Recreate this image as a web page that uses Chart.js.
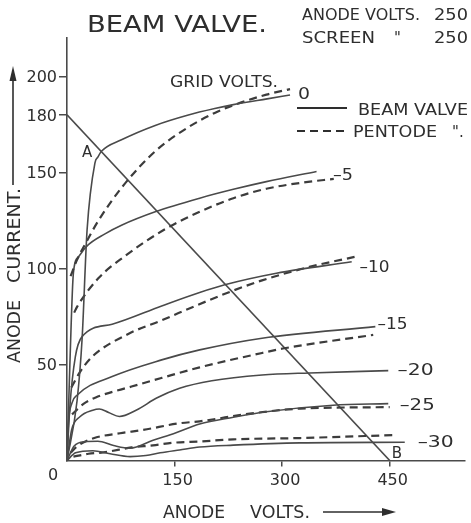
<!DOCTYPE html>
<html>
<head>
<meta charset="utf-8">
<title>Beam valve</title>
<script src="https://cdn.jsdelivr.net/npm/chart.js@4.4.1/dist/chart.umd.min.js"></script>
<style>
  html, body { margin: 0; padding: 0; background: #fff; }
  canvas { display: block; }
</style>
</head>
<body>
<canvas id="valve" width="471" height="523"></canvas>
<script>
// anode volts, anode current (mA)
const beam0  = [[0,0],[14,31],[21,63],[28,120],[39,155],[43,158],[48,161],[76,167],[123,174.5],[168,179.8],[206,183.3],[232,185.3],[279,188.3],[311,190.3]];
const pent0  = [[5,96],[14,104.5],[28,114.5],[44,125],[76,142],[123,161],[169,173.5],[206,181],[232,185],[278,190.5],[311,193.4]];
const beam5  = [[0,0],[4,50],[9,98],[16,106],[27,111.4],[53,118],[76,122.5],[123,129.5],[185,136.6],[232,141.2],[278,145.2],[348,150.5]];
const pent5  = [[10,77],[14,80],[44,95],[81,106.5],[137,120.5],[185,129.5],[232,136.6],[278,141.5],[330,144.8],[372,146.6]];
const beam10 = [[0,0],[4,28],[11.6,54],[21,64.5],[63,71],[132,80.5],[185,87.5],[220,91.5],[292,97.5],[397,103.5]];
const pent10 = [[6,38],[18,46],[35,54],[86,66],[132,73],[179,80.5],[225,87.5],[272,93.8],[338,100.8],[401,106]];
const beam15 = [[0,0],[2,19],[7,30],[14,34],[63,43.7],[132,52.4],[185,57.6],[272,63.7],[430,69.7]];
const pent15 = [[7,24],[23,29.5],[40,32.8],[90,38.5],[132,43],[185,48.5],[272,56],[301,58.3],[427,65.4]];
const beam20 = [[0,0],[6.5,16],[18,22.8],[36,26.2],[45,26.8],[58,25],[73,22.9],[97,26.3],[125,32.5],[157,37.6],[202,41.5],[272,44.5],[338,45.6],[448,46.8]];
const beam25 = [[0,0],[10,7.5],[25,9.8],[43,10],[65,7.8],[88,6.4],[120,10.5],[152,14.5],[185,19],[232,22.5],[278,25.4],[371,28.8],[448,29.6]];
const pent25 = [[5,4],[13.5,7.2],[37,11.6],[74,14.2],[106,15.9],[157,19.4],[185,20.4],[255,24.4],[325,27],[450,27.8]];
const beam30 = [[0,0],[12,4],[36,5.1],[60,3.5],[88,2],[110,2.6],[130,4],[157,5.5],[185,7],[232,8],[325,9.2],[471,9.5]];
const pent30 = [[9,2],[30,3.5],[51,4.2],[90,6.8],[120,7.9],[150,9.3],[185,9.9],[232,11],[325,11.7],[460,13.3]];
const loadLine = [[0,180],[450,0]];

const yTicks = [50, 100, 150, 180, 200];
const xTicks = [150, 300, 450];
const gridVolts = ['0', '–5', '–10', '–15', '–20', '–25', '–30'];

const ink = '#2e2e2e';
const lineInk = '#4a4a4a';
const FONT = '"DejaVu Sans", sans-serif';

function pts(arr) {
    return arr.map(p => ({x: p[0], y: p[1]}));
}

function curve(arr, dashed) {
    return {
        data: pts(arr),
        borderColor: dashed ? '#3c3c3c' : lineInk,
        borderWidth: dashed ? 2.2 : 1.6,
        borderDash: dashed ? [8, 5] : [],
        pointRadius: 0,
        fill: false,
        cubicInterpolationMode: 'monotone'
    };
}

// draw text starting at x, glyphs stretched or squeezed to width w
function fitText(ctx, s, x, y, w, size) {
    ctx.font = size + 'px ' + FONT;
    ctx.textAlign = 'left';
    ctx.textBaseline = 'alphabetic';
    let nat = ctx.measureText(s).width;
    let k = w ? w / nat : 1;
    ctx.save();
    ctx.translate(x, y);
    ctx.scale(k, 1);
    ctx.fillText(s, 0, 0);
    ctx.restore();
}

const textPlugin = {
    id: 'textPlugin',
    afterDraw(chart) {
        const ctx = chart.ctx;
        const xs = chart.scales.x, ys = chart.scales.y;
        ctx.save();
        ctx.fillStyle = ink;
        ctx.strokeStyle = ink;

        // tick labels
        ctx.font = '16px ' + FONT;
        ctx.textAlign = 'right';
        ctx.textBaseline = 'alphabetic';
        ys.ticks.forEach(t => {
            ctx.fillText(String(t.value), 57, ys.getPixelForValue(t.value) + 6);
        });
        ctx.textAlign = 'center';
        xs.ticks.forEach(t => {
            ctx.fillText(String(t.value), xs.getPixelForValue(t.value) + 3, 485);
        });
        ctx.fillText('0', 53, 480);

        // curve labels, one per grid voltage
        const labelAt = [[322, 191.5, 12], [371, 149.3, 20], [408, 101.4, 30], [433, 71.7, 30],
                         [461, 47.7, 36], [464, 29.4, 35], [489, 10.2, 36]];
        gridVolts.forEach((g, i) => {
            const a = labelAt[i];
            fitText(ctx, g, xs.getPixelForValue(a[0]), ys.getPixelForValue(a[1]) + 6, a[2], 16);
        });
        fitText(ctx, 'A', xs.getPixelForValue(21), ys.getPixelForValue(158), 0, 15);
        fitText(ctx, 'B', xs.getPixelForValue(453), ys.getPixelForValue(1.3), 0, 15);

        // headings
        fitText(ctx, 'BEAM VALVE.', 87, 32, 180, 23);
        fitText(ctx, 'ANODE VOLTS.', 302, 20, 118, 15);
        fitText(ctx, '250', 434, 20, 34, 15);
        fitText(ctx, 'SCREEN', 302, 43, 73, 15);
        fitText(ctx, '"', 394, 43, 0, 15);
        fitText(ctx, '250', 434, 43, 34, 15);
        fitText(ctx, 'GRID VOLTS.', 170, 87, 108, 15);

        // legend
        ctx.lineWidth = 1.8;
        ctx.beginPath();
        ctx.moveTo(297, 108); ctx.lineTo(347, 108);
        ctx.stroke();
        ctx.setLineDash([8, 5]);
        ctx.lineWidth = 2.2;
        ctx.beginPath();
        ctx.moveTo(297, 131); ctx.lineTo(347, 131);
        ctx.stroke();
        ctx.setLineDash([]);
        fitText(ctx, 'BEAM VALVE', 358, 115, 110, 15);
        fitText(ctx, 'PENTODE', 353, 137, 84, 15);
        fitText(ctx, '".', 452, 137, 0, 15);

        // axis titles with arrows
        fitText(ctx, 'ANODE', 163, 518, 62, 18);
        fitText(ctx, 'VOLTS.', 250, 518, 60, 18);
        ctx.lineWidth = 1.6;
        ctx.beginPath();
        ctx.moveTo(323, 512); ctx.lineTo(388, 512);
        ctx.stroke();
        ctx.beginPath();
        ctx.moveTo(396, 512); ctx.lineTo(382, 508); ctx.lineTo(382, 516);
        ctx.closePath(); ctx.fill();

        ctx.save();
        ctx.translate(20, 363);
        ctx.rotate(-Math.PI / 2);
        fitText(ctx, 'ANODE', 0, 0, 63, 17);
        fitText(ctx, 'CURRENT.', 80, 0, 95, 17);
        ctx.restore();
        ctx.beginPath();
        ctx.moveTo(13, 185); ctx.lineTo(13, 76);
        ctx.stroke();
        ctx.beginPath();
        ctx.moveTo(13, 66); ctx.lineTo(9.5, 81); ctx.lineTo(16.5, 81);
        ctx.closePath(); ctx.fill();

        ctx.restore();
    }
};

new Chart(document.getElementById('valve'), {
    type: 'line',
    data: {
        datasets: [
            curve(beam0), curve(pent0, true),
            curve(beam5), curve(pent5, true),
            curve(beam10), curve(pent10, true),
            curve(beam15), curve(pent15, true),
            curve(beam20),
            curve(beam25), curve(pent25, true),
            curve(beam30), curve(pent30, true),
            {data: pts(loadLine), borderColor: lineInk, borderWidth: 1.6, pointRadius: 0, tension: 0}
        ]
    },
    options: {
        responsive: false,
        animation: false,
        devicePixelRatio: 1,
        layout: {padding: {left: 59, right: 6, top: 38, bottom: 56.5}},
        plugins: {legend: {display: false}, tooltip: {enabled: false}},
        scales: {
            x: {
                type: 'linear', min: 0, max: 555,
                afterBuildTicks: s => { s.ticks = xTicks.map(v => ({value: v})); },
                ticks: {display: false},
                grid: {display: true, drawOnChartArea: false, drawTicks: true, tickLength: 6, color: lineInk, lineWidth: 1.5},
                border: {display: true, color: lineInk, width: 1.6}
            },
            y: {
                type: 'linear', min: 0, max: 220,
                afterBuildTicks: s => { s.ticks = yTicks.map(v => ({value: v})); },
                ticks: {display: false},
                grid: {display: true, drawOnChartArea: false, drawTicks: true, tickLength: 8, color: lineInk, lineWidth: 1.5},
                border: {display: true, color: lineInk, width: 1.6}
            }
        }
    },
    plugins: [textPlugin]
});
</script>
</body>
</html>
